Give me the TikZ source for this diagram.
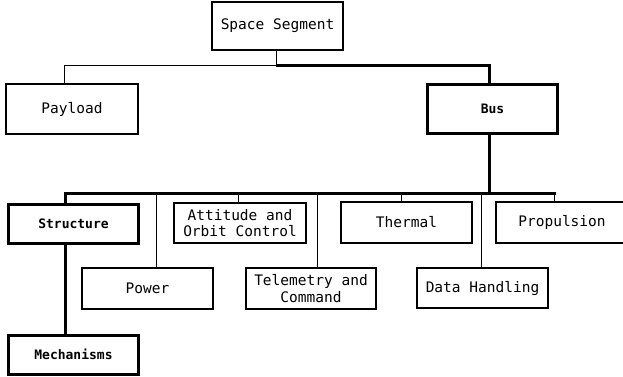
\documentclass[tikz,border=0pt]{standalone}
\usepackage{fontspec}
\setmonofont{DejaVu Sans Mono}
\usepackage{tikz}
\usetikzlibrary{positioning,calc}

\begin{document}
\begin{tikzpicture}[x=1pt, y=-1pt,
    box/.style={rectangle, draw=black, line width=1.1pt, fill=white,
                minimum width=131pt, minimum height=41pt, align=center,
                inner sep=1pt, font=\ttfamily\fontsize{14.5}{16.5}\selectfont},
    keybox/.style={box, line width=3pt, font=\ttfamily\bfseries\fontsize{13}{15}\selectfont},
    link/.style={line width=1pt},
    mainlink/.style={line width=3pt}
]
    \useasboundingbox (0,0) rectangle (623,376);

    % top level
    \node[box, minimum height=48pt] (seg) at (277.5,26) {Space Segment};
    \node[box, minimum width=132pt, minimum height=50pt] (payload) at (72,109) {Payload};
    \node[keybox, minimum width=130pt, minimum height=49pt] (bus) at (492.5,108.5) {Bus};

    % subsystems
    \node[keybox, minimum width=130pt, minimum height=39pt] (structure) at (73.5,223.5) {Structure};
    \node[keybox, minimum width=130pt, minimum height=39pt] (mech) at (73.5,354.5) {Mechanisms};
    \node[box] (power) at (147.5,288.5) {Power};
    \node[box, minimum width=132pt, minimum height=40pt] (attitude) at (240,223) {Attitude and\\Orbit Control};
    \node[box, minimum width=130pt] (telemetry) at (311,288.5) {Telemetry and\\Command};
    \node[box] (thermal) at (406.5,222.5) {Thermal};
    \node[box, minimum height=40pt] (datah) at (482.5,288) {Data Handling};
    \node[box, minimum width=132pt] (propulsion) at (562,222.5) {Propulsion};

    % junctions
    \coordinate (j1) at (276,65);
    \coordinate (j2) at (489,193.5);
    \coordinate (leftend) at (65,193.5);
    \coordinate (rightend) at (554,193.5);

    \draw[link] (seg.south -| j1) -- (j1);
    \draw[link] (j1) -| (64,0 |- payload.north);
    \draw[mainlink] (j1) -| (bus.north -| j2);
    \draw[mainlink] (bus.south -| j2) -- (j2);
    \draw[mainlink, line cap=rect] (leftend) -- (rightend);

    \draw[mainlink] (leftend) -- (structure.north -| leftend);
    \draw[mainlink] (structure.south -| leftend) -- (mech.north -| leftend);
    \draw[link] (156,193.5) -- (power.north -| 156,0);
    \draw[link] (238,193.5) -- (attitude.north -| 238,0);
    \draw[link] (317,193.5) -- (telemetry.north -| 317,0);
    \draw[link] (401,193.5) -- (thermal.north -| 401,0);
    \draw[link] (481,193.5) -- (datah.north -| 481,0);
    \draw[link] (rightend) -- (propulsion.north -| rightend);
\end{tikzpicture}
\end{document}
